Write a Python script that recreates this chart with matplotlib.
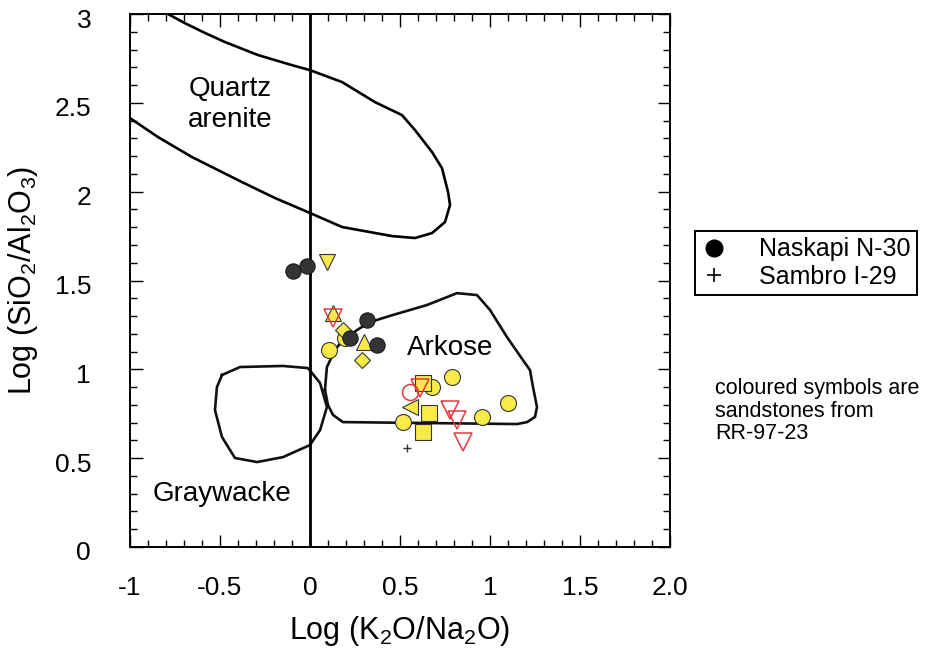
import matplotlib
matplotlib.use("Agg")
import matplotlib.pyplot as plt
import matplotlib.transforms as mtransforms
from matplotlib.lines import Line2D
from matplotlib.ticker import MultipleLocator, FixedLocator

plt.rcParams['font.family'] = ['Liberation Sans', 'DejaVu Sans']
plt.rcParams['mathtext.fontset'] = 'custom'
plt.rcParams['mathtext.rm'] = 'Liberation Sans'
plt.rcParams['mathtext.it'] = 'Liberation Sans:italic'

# field boundaries, log(K2O/Na2O) vs log(SiO2/Al2O3)
quartz_x = [-0.789, -0.694, -0.583, -0.472, -0.289, -0.1, 0.0, 0.178, 0.361, 0.511,
            0.583, 0.678, 0.733, 0.767, 0.778, 0.75, 0.678, 0.583, 0.456, 0.178,
            0.0, -0.194, -0.378, -0.656, -0.844, -1.0]
quartz_y = [3.0, 2.948, 2.893, 2.842, 2.769, 2.712, 2.684, 2.617, 2.504, 2.431,
            2.347, 2.223, 2.133, 1.998, 1.925, 1.829, 1.767, 1.739, 1.75, 1.801,
            1.88, 1.964, 2.054, 2.195, 2.307, 2.414]

arkose_x = [0.083, 0.094, 0.139, 0.183, 0.261, 0.333, 0.461, 0.65, 0.817, 0.928,
            1.0, 1.094, 1.183, 1.222, 1.239, 1.261, 1.25, 1.206, 1.15, 0.183,
            0.128, 0.1, 0.083]
arkose_y = [0.884, 1.013, 1.109, 1.165, 1.221, 1.266, 1.306, 1.362, 1.429, 1.418,
            1.334, 1.182, 1.052, 0.996, 0.9, 0.788, 0.732, 0.703, 0.692, 0.703,
            0.743, 0.799, 0.884]

grey_x = [-0.489, -0.389, -0.15, -0.011, 0.056, 0.094, 0.056, 0.0, -0.15, -0.294,
          -0.417, -0.489, -0.528, -0.517, -0.489]
grey_y = [0.968, 1.013, 1.019, 1.007, 0.923, 0.788, 0.658, 0.574, 0.506, 0.478,
          0.501, 0.619, 0.771, 0.9, 0.968]

# well samples
naskapi_x = [-0.094, -0.017, 0.222, 0.317, 0.372]
naskapi_y = [1.553, 1.581, 1.176, 1.277, 1.137]
sambro_x = [0.539]
sambro_y = [0.557]

# RR-97-23 sandstones
yc_x = [0.194, 0.106, 0.678, 0.789, 0.517, 0.956, 1.1]
yc_y = [1.176, 1.109, 0.9, 0.957, 0.703, 0.732, 0.81]
ys_x = [0.628, 0.661, 0.628]
ys_y = [0.923, 0.754, 0.647]
yup_x = [0.128, 0.3]
yup_y = [1.317, 1.154]
ydn_x = [0.094]
ydn_y = [1.604]
yd_x = [0.183, 0.289]
yd_y = [1.221, 1.052]
yl_x = [0.556]
yl_y = [0.788]
rdn_x = [0.128, 0.611, 0.778, 0.817, 0.85]
rdn_y = [1.289, 0.895, 0.771, 0.715, 0.591]
rc_x = [0.556]
rc_y = [0.872]

xticks = [-1, -0.5, 0, 0.5, 1, 1.5, 2.0]
xlabels = ['-1', '-0.5', '0', '0.5', '1', '1.5', '2.0']
yticks = [0, 0.5, 1, 1.5, 2, 2.5, 3]
ylabels = ['0', '0.5', '1', '1.5', '2', '2.5', '3']

fig = plt.figure(figsize=(9.26, 6.53), dpi=100)
ax = fig.add_axes([130/926, 1-547/653, 540/926, 533/653])

lw = 1.9
ax.plot(quartz_x, quartz_y, color='black', lw=lw, zorder=2)
ax.plot(arkose_x, arkose_y, color='#111111', lw=lw, zorder=2)
ax.plot(grey_x, grey_y, color='#111111', lw=lw, zorder=2)
ax.axvline(0, color='black', lw=2.0, zorder=2)

yellow = '#f8ea48'
yedge = '#333333'
ax.plot(yc_x, yc_y, 'o', ms=11.5, mfc=yellow, mec=yedge, mew=0.8, zorder=3)
ax.plot(ys_x, ys_y, 's', ms=11, mfc=yellow, mec=yedge, mew=0.8, zorder=3)
ax.plot(yup_x, yup_y, '^', ms=12, mfc=yellow, mec=yedge, mew=0.8, zorder=3)
ax.plot(ydn_x, ydn_y, 'v', ms=12, mfc=yellow, mec=yedge, mew=0.8, zorder=3)
ax.plot(yd_x, yd_y, 'D', ms=8.5, mfc=yellow, mec=yedge, mew=0.8, zorder=3)
ax.plot(yl_x, yl_y, '<', ms=12, mfc=yellow, mec=yedge, mew=0.8, zorder=3)
ax.plot(naskapi_x, naskapi_y, 'o', ms=11, mfc='#333333', mec='#1a1a1a', mew=0.8, zorder=4)
ax.plot(sambro_x, sambro_y, '+', ms=6, color='#333333', mew=1.0, zorder=4)
ax.plot(rdn_x, rdn_y, 'v', ms=12.5, mfc='none', mec='#e03a3a', mew=1.1, zorder=5)
ax.plot(rc_x, rc_y, 'o', ms=11.5, mfc='none', mec='#e03a3a', mew=1.1, zorder=5)

ax.text(-0.444, 2.49, 'Quartz\narenite', fontsize=20, ha='center', va='center',
        linespacing=1.25)
ax.text(0.78, 1.12, 'Arkose', fontsize=20, ha='center', va='center')
ax.text(-0.49, 0.3, 'Graywacke', fontsize=20, ha='center', va='center')

ax.set_xlim(-1, 2.0)
ax.set_ylim(0, 3)
ax.xaxis.set_major_locator(FixedLocator(xticks))
ax.set_xticklabels(xlabels)
ax.yaxis.set_major_locator(FixedLocator(yticks))
ax.set_yticklabels(ylabels)
ax.xaxis.set_minor_locator(MultipleLocator(0.1))
ax.yaxis.set_minor_locator(MultipleLocator(0.1))
ax.tick_params(which='both', direction='in', top=True, right=True, width=1.0)
ax.tick_params(which='major', length=9, labelsize=19)
ax.tick_params(axis='x', which='major', pad=21)
ax.tick_params(axis='y', which='major', pad=28)
ax.tick_params(which='minor', length=5)
for s in ax.spines.values():
    s.set_linewidth(1.4)

# y tick labels sit a little below their ticks
shift = mtransforms.ScaledTranslation(0, -4/100, fig.dpi_scale_trans)
for lab in ax.get_yticklabels():
    lab.set_transform(lab.get_transform() + shift)

ax.set_xlabel('Log (K$_2$O/Na$_2$O)', fontsize=22)
ax.xaxis.set_label_coords(0.5, -0.125)
ax.set_ylabel('Log (SiO$_2$/Al$_2$O$_3$)', fontsize=22)
ax.yaxis.set_label_coords(-0.167, 0.5)

handles = [Line2D([], [], ls='none', marker='o', ms=12, mfc='black', mec='black'),
           Line2D([], [], ls='none', marker='+', ms=10, color='black', mew=1.2)]
leg = ax.legend(handles, ['Naskapi N-30', 'Sambro I-29'], loc='upper left',
                bbox_to_anchor=(695/926, 1-231/653), bbox_transform=fig.transFigure,
                fontsize=18, frameon=True, fancybox=False, framealpha=1,
                edgecolor='black', handlelength=1.0, handletextpad=1.3,
                borderpad=0.25, labelspacing=0.15, borderaxespad=0)
leg.get_frame().set_linewidth(1.4)

fig.text(715/926, 1-378/653, 'coloured symbols are\nsandstones from\nRR-97-23',
         fontsize=15.5, va='top', ha='left', linespacing=1.1)

fig.savefig('out.png', dpi=100)
